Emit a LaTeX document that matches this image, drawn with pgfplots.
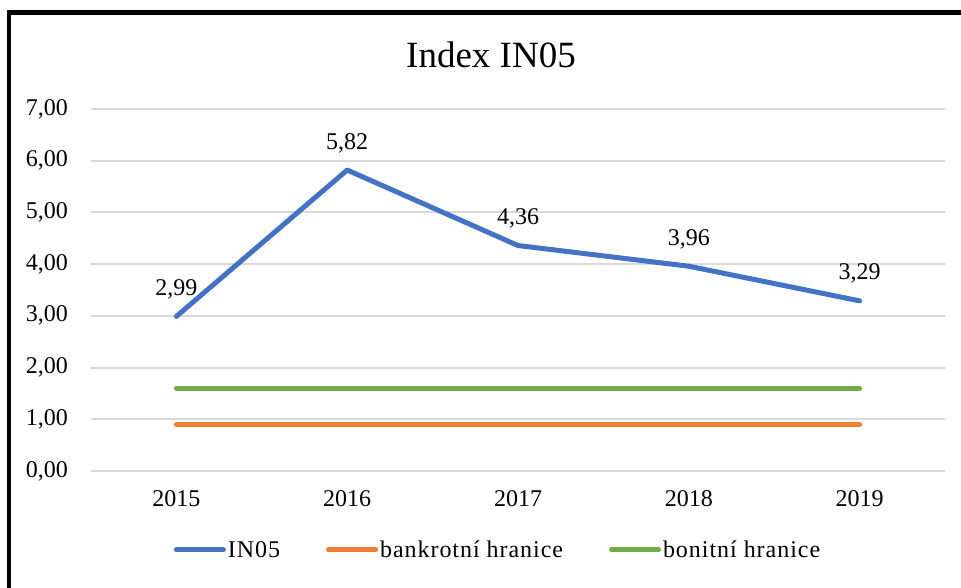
\documentclass[border=0pt]{standalone}
\usepackage{fontspec}
\setmainfont{Liberation Serif}
\newfontfamily\legfont[LetterSpace=4]{Liberation Serif}
\usepackage{pgfplots}
\pgfplotsset{compat=1.18}
\definecolor{inBlue}{HTML}{4472C4}
\definecolor{inOrange}{HTML}{ED7D31}
\definecolor{inGreen}{HTML}{70AD47}
\definecolor{gridGrey}{HTML}{D9D9D9}

\begin{document}
\begin{tikzpicture}[x=1pt,y=1pt]
\path[use as bounding box] (0,0) rectangle (961,587);
\begin{axis}[
    at={(91pt,116pt)}, anchor=south west,
    scale only axis, width=854pt, height=362pt,
    xmin=-0.5, xmax=4.5, ymin=0, ymax=7,
    xtick={0,1,2,3,4},
    xticklabels={2015,2016,2017,2018,2019},
    ytick={0,1,2,3,4,5,6,7},
    axis line style={draw=none},
    major tick length=0pt,
    ymajorgrids=true,
    grid style={gridGrey,line width=2pt},
    /pgf/number format/.cd, fixed, fixed zerofill, precision=2, use comma, assume math mode=true,
    /pgfplots/.cd,
    tick label style={font=\fontsize{24}{28}\selectfont, inner sep=0pt},
    yticklabel style={anchor=east, xshift=-23pt},
    xticklabel style={anchor=north, yshift=-19pt},
    legend style={at={(0.4766,-0.218)}, anchor=center, draw=none, fill=none,
        font=\legfont\fontsize{24}{28}\selectfont, legend columns=3,
        /tikz/every even column/.append style={column sep=44pt}},
    legend image code/.code={\draw[#1] (0pt,0pt) -- (47pt,0pt);},
    every axis plot/.append style={line width=5pt, line cap=round, line join=round},
]
\addplot[inBlue, no markers,
    nodes near coords,
    nodes near coords style={anchor=base, inner sep=0pt, yshift=21pt, black, font=\fontsize{24}{28}\selectfont}]
    coordinates {(0,2.99) (1,5.82) (2,4.36) (3,3.96) (4,3.29)};
\addlegendentry{IN05}
\addplot[inOrange, no markers] coordinates {(0,0.90) (1,0.90) (2,0.90) (3,0.90) (4,0.90)};
\addlegendentry{bankrotní hranice}
\addplot[inGreen, no markers] coordinates {(0,1.60) (1,1.60) (2,1.60) (3,1.60) (4,1.60)};
\addlegendentry{bonitní hranice}
\end{axis}
\node[font=\fontsize{37}{42}\selectfont] at (491,532) {Index IN05};
\draw[line width=4.5pt] (9,-5) -- (9,574.5) -- (975,574.5);
\end{tikzpicture}
\end{document}
